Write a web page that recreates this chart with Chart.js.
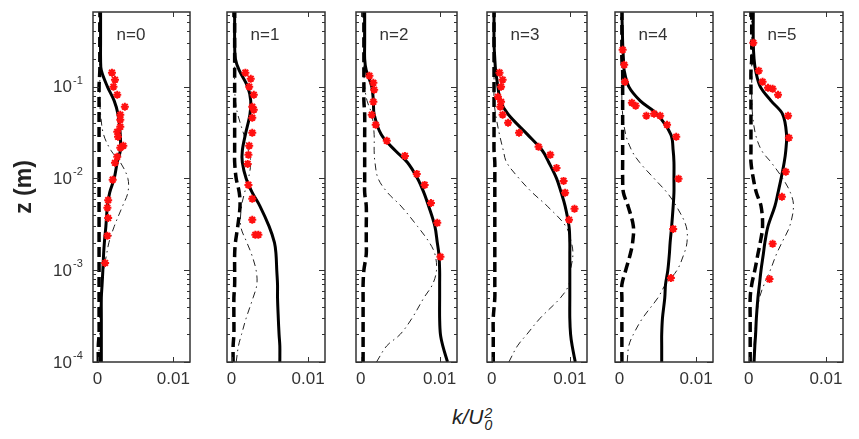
<!DOCTYPE html>
<html>
<head>
<meta charset="utf-8">
<script src="https://cdn.jsdelivr.net/npm/chart.js@4.4.1/dist/chart.umd.min.js"></script>
<style>
  html, body { margin: 0; padding: 0; background: #fff; }
  #fig { position: relative; width: 859px; height: 439px; overflow: hidden; background: #fff; }
  #fig canvas { position: absolute; top: 0; }
  #xtitle { position: absolute; left: 452px; top: 405px; color: #222; line-height: 1;
            font: italic 21px "Liberation Sans", Arial, sans-serif; white-space: nowrap; }
  #xtitle .stack { display: inline-block; vertical-align: -6px; font-size: 14px; line-height: 12px; margin-left: 1px; }
  #xtitle .stack span { display: block; }
</style>
</head>
<body>
<div id="fig">
  <div id="xtitle">k/U<span class="stack"><span>2</span><span>0</span></span></div>
</div>
<script>
// heights (m) where the model profiles are sampled
const zModel = [1e-4, 1.5e-4, 2e-4, 3e-4, 5e-4, 7e-4, 1e-3, 1.5e-3, 2e-3, 3e-3, 5e-3, 7e-3,
                0.01, 0.015, 0.02, 0.03, 0.05, 0.07, 0.1, 0.15, 0.2, 0.3, 0.65];

const panelNames = ['n=0', 'n=1', 'n=2', 'n=3', 'n=4', 'n=5'];

// k/U0^2, one row per panel, same order as zModel
const kSolid = [
  [0.0005,0.0005,0.0005,0.0005,0.0005,0.0006,0.0007,0.0008,0.0009,0.0011,0.0013,0.0016,0.0022,0.0026,0.003,0.003,0.0027,0.0022,0.0013,0.0005,0.0004,0.0004,0.0004],
  [0.0063,0.0063,0.0062,0.0061,0.006,0.006,0.0059,0.0058,0.0056,0.0049,0.0037,0.0027,0.0019,0.0014,0.0014,0.0018,0.0024,0.0025,0.0021,0.001,0.0005,0.0004,0.0004],
  [0.011,0.0104,0.0101,0.01,0.01,0.01,0.01,0.0099,0.0097,0.0094,0.0086,0.008,0.0072,0.0059,0.0044,0.0026,0.0017,0.0016,0.0014,0.0007,0.0005,0.0005,0.0005],
  [0.0107,0.0103,0.0101,0.01,0.01,0.01,0.01,0.01,0.01,0.0099,0.0094,0.0089,0.0083,0.0073,0.0065,0.0046,0.0021,0.0011,0.0008,0.0005,0.0004,0.0003,0.0003],
  [0.0055,0.0055,0.0055,0.0056,0.0059,0.006,0.0063,0.0065,0.0066,0.0068,0.007,0.0071,0.0071,0.0071,0.007,0.0067,0.0049,0.0027,0.0012,0.0006,0.0005,0.0004,0.0003],
  [0.0007,0.0008,0.0009,0.001,0.0012,0.0014,0.0016,0.0019,0.0021,0.0025,0.0034,0.0038,0.0042,0.0046,0.0048,0.0049,0.0044,0.0029,0.0015,0.0009,0.0007,0.0006,0.0006]
];
const kDashed = [
  [0.0001,0.0001,0.0002,0.0002,0.0002,0.0002,0.0002,0.0002,0.0002,0.0002,0.0002,0.0002,0.0002,0.0002,0.0002,0.0002,0.0002,0.0002,0.0002,0.0003,0.0003,0.0003,0.0003],
  [0.0002,0.0002,0.0003,0.0003,0.0003,0.0004,0.0004,0.0004,0.0005,0.0008,0.0011,0.001,0.0006,0.0004,0.0004,0.0004,0.0004,0.0004,0.0004,0.0004,0.0004,0.0004,0.0004],
  [0.0003,0.0003,0.0003,0.0003,0.0003,0.0003,0.0004,0.0007,0.0007,0.0007,0.0007,0.0005,0.0005,0.0005,0.0005,0.0005,0.0005,0.0004,0.0004,0.0004,0.0004,0.0004,0.0004],
  [0.0002,0.0002,0.0002,0.0002,0.0004,0.0004,0.0004,0.0004,0.0004,0.0004,0.0004,0.0004,0.0004,0.0004,0.0003,0.0003,0.0003,0.0003,0.0003,0.0003,0.0003,0.0003,0.0003],
  [0.0003,0.0003,0.0003,0.0003,0.0003,0.0003,0.0008,0.0014,0.0017,0.0018,0.0011,0.0005,0.0004,0.0004,0.0004,0.0004,0.0004,0.0004,0.0004,0.0004,0.0003,0.0003,0.0003],
  [0.0002,0.0002,0.0002,0.0002,0.0002,0.0004,0.0008,0.0012,0.0015,0.0018,0.0016,0.001,0.0006,0.0003,0.0003,0.0003,0.0003,0.0003,0.0003,0.0003,0.0004,0.0004,0.0004]
];
const kDashDot = [
  [0.0002,0.0002,0.0003,0.0003,0.0004,0.0006,0.0008,0.0012,0.0015,0.0022,0.0033,0.004,0.004,0.003,0.0018,0.0008,0.0004,0.0003,0.0003,0.0003,0.0003,0.0003,0.0003],
  [0.0006,0.0009,0.0013,0.0019,0.0028,0.0033,0.0032,0.0026,0.002,0.0012,0.0013,0.0017,0.0022,0.0025,0.0022,0.0016,0.0008,0.0005,0.0004,0.0004,0.0004,0.0004,0.0004],
  [0.002,0.0033,0.005,0.0065,0.008,0.0091,0.0096,0.0094,0.0087,0.0072,0.0051,0.0034,0.0022,0.0018,0.0017,0.0017,0.0014,0.0008,0.0005,0.0004,0.0004,0.0004,0.0004],
  [0.0022,0.0033,0.0045,0.0062,0.0088,0.0099,0.0101,0.0104,0.0102,0.0095,0.0071,0.0052,0.0035,0.0019,0.0015,0.001,0.0005,0.0003,0.0003,0.0003,0.0003,0.0003,0.0003],
  [0.001,0.0012,0.0018,0.003,0.005,0.006,0.0075,0.0084,0.0088,0.0087,0.0074,0.0062,0.0045,0.0026,0.0016,0.0008,0.0004,0.0003,0.0003,0.0003,0.0003,0.0003,0.0003],
  [0.0006,0.0007,0.0008,0.001,0.0014,0.002,0.0028,0.0036,0.0043,0.0053,0.0058,0.0054,0.0044,0.0029,0.0017,0.0009,0.0005,0.0004,0.0004,0.0004,0.0004,0.0004,0.0004]
];

// measurements
const obsZ = [
  [0.142,0.119,0.0998,0.0817,0.0604,0.0494,0.0436,0.0365,0.0322,0.0284,0.0227,0.0216,0.0172,0.0148,0.0097,0.0058,0.0048,0.0037,0.00237,0.0012],
  [0.142,0.122,0.0998,0.0817,0.0604,0.056,0.0458,0.0314,0.0227,0.0181,0.0144,0.0085,0.006,0.00354,0.00243,0.00243],
  [0.1315,0.11,0.0925,0.0684,0.0494,0.0384,0.0257,0.0176,0.0112,0.0085,0.0054,0.00328,0.0014],
  [0.142,0.119,0.0998,0.0776,0.0684,0.0604,0.0494,0.0404,0.0314,0.0221,0.0181,0.013,0.0094,0.007,0.00467,0.00355],
  [0.252,0.173,0.113,0.0668,0.062,0.0482,0.0507,0.0482,0.0384,0.0284,0.0099,0.00282,0.00082],
  [0.301,0.149,0.113,0.0972,0.0948,0.0817,0.0482,0.0277,0.0118,0.0063,0.00194,0.0008]
];
const obsK = [
  [0.0019,0.0023,0.0021,0.0026,0.0036,0.003,0.003,0.003,0.0026,0.0027,0.0034,0.003,0.0026,0.0023,0.002,0.0014,0.0013,0.0014,0.0013,0.001],
  [0.0018,0.0025,0.0023,0.0029,0.0027,0.0029,0.0027,0.0027,0.0023,0.0022,0.0021,0.0022,0.0027,0.0027,0.0031,0.0035],
  [0.0011,0.0016,0.0017,0.0016,0.0014,0.0019,0.0033,0.0056,0.0071,0.0081,0.0089,0.0097,0.0101],
  [0.001,0.0014,0.0012,0.0008,0.0012,0.0011,0.0014,0.0021,0.0035,0.006,0.0075,0.0083,0.0092,0.0094,0.0106,0.0099],
  [0.0004,0.0006,0.0007,0.0016,0.0021,0.0035,0.0045,0.0053,0.0062,0.0074,0.0077,0.007,0.0067],
  [0.0006,0.0013,0.0018,0.0025,0.0031,0.0038,0.0051,0.0052,0.0048,0.0043,0.0031,0.0027]
];

const xTickValues = [0, 0.01];
const xTickLabels = ['0', '0.01'];
const yTickValues = [1e-4, 1e-3, 1e-2, 1e-1];
const yTickExps = ['-4', '-3', '-2', '-1'];

// panel placement on the page
const panelLeft = [93, 227, 356, 487, 615, 744];
const panelWidth = [97, 98, 101, 100, 98, 99];
const FONT = '"Liberation Sans", Arial, sans-serif';

const pairs = (zs, ks) => zs.map((z, j) => ({ x: ks[j], y: z }));

// box, inward ticks, panel name and the 10^n labels
const framePlugin = {
  id: 'frame',
  afterDatasetsDraw(chart, args, opts) {
    const { ctx, chartArea: a, scales: { x, y } } = chart;
    ctx.save();
    ctx.strokeStyle = '#333';
    ctx.lineWidth = 1;
    ctx.beginPath();
    for (let d = -4; d <= -1; d++) {
      for (let m = 1; m <= 9; m++) {
        const v = m * Math.pow(10, d);
        if (v > y.max) break;
        const py = Math.round(y.getPixelForValue(v)) + 0.5;
        const len = m === 1 ? 6 : 3;
        ctx.moveTo(a.left, py); ctx.lineTo(a.left + len, py);
        ctx.moveTo(a.right, py); ctx.lineTo(a.right - len, py);
      }
    }
    xTickValues.forEach(v => {
      const px = Math.round(x.getPixelForValue(v)) + 0.5;
      ctx.moveTo(px, a.bottom); ctx.lineTo(px, a.bottom - 5);
      ctx.moveTo(px, a.top); ctx.lineTo(px, a.top + 5);
    });
    ctx.stroke();
    ctx.lineWidth = 1.5;
    ctx.strokeRect(a.left, a.top, a.right - a.left, a.bottom - a.top);

    ctx.fillStyle = '#333';
    ctx.font = '17px ' + FONT;
    ctx.textAlign = 'center';
    ctx.textBaseline = 'middle';
    ctx.fillText(opts.label, a.left + 38, a.top + 23);

    if (opts.yLabels) {
      yTickValues.forEach((v, j) => {
        const py = y.getPixelForValue(v);
        ctx.font = '17px ' + FONT;
        ctx.textAlign = 'right';
        ctx.fillText('10', 72, py + 1);
        ctx.font = '11px ' + FONT;
        ctx.textAlign = 'left';
        ctx.fillText(yTickExps[j], 73, py - 6);
      });
    }
    ctx.restore();
  }
};

const fig = document.getElementById('fig');

panelNames.forEach((name, i) => {
  const first = i === 0;
  const padL = first ? 0 : 20;
  const left = first ? 0 : panelLeft[i] - 20;
  const width = (first ? panelLeft[0] : 20) + panelWidth[i] + 20;

  const canvas = document.createElement('canvas');
  canvas.width = width;
  canvas.height = 400;
  canvas.style.left = left + 'px';
  canvas.style.width = width + 'px';
  canvas.style.height = '400px';
  fig.appendChild(canvas);

  new Chart(canvas.getContext('2d'), {
    type: 'scatter',
    data: {
      datasets: [
        {
          data: pairs(obsZ[i], obsK[i]),
          showLine: false,
          pointStyle: 'star',
          pointRadius: 4,
          borderColor: '#ff1010',
          backgroundColor: '#ff1010',
          borderWidth: 2
        },
        {
          data: pairs(zModel, kSolid[i]),
          showLine: true,
          borderColor: '#000',
          borderWidth: 3,
          pointRadius: 0,
          tension: 0.35
        },
        {
          data: pairs(zModel, kDashed[i]),
          showLine: true,
          borderColor: '#000',
          borderWidth: 3.5,
          borderDash: [10, 5],
          pointRadius: 0,
          tension: 0.35
        },
        {
          data: pairs(zModel, kDashDot[i]),
          showLine: true,
          borderColor: '#222',
          borderWidth: 1,
          borderDash: [7, 4, 1.5, 4],
          pointRadius: 0,
          tension: 0.35
        }
      ]
    },
    options: {
      responsive: false,
      animation: false,
      devicePixelRatio: 1,
      events: [],
      layout: { padding: { top: 12, left: padL, right: 20, bottom: 0 } },
      plugins: {
        legend: { display: false },
        tooltip: { enabled: false },
        frame: { label: name, yLabels: first }
      },
      scales: {
        x: {
          type: 'linear',
          min: -0.0006,
          max: 0.0122,
          grid: { display: false, drawTicks: false },
          border: { display: false },
          afterBuildTicks: s => { s.ticks = xTickValues.map(v => ({ value: v })); },
          afterFit: s => { s.height = 38; },
          ticks: {
            autoSkip: false,
            maxRotation: 0,
            padding: 7,
            color: '#333',
            font: { family: FONT, size: 17 },
            callback: (v, idx) => xTickLabels[idx]
          }
        },
        y: {
          type: 'logarithmic',
          min: 1e-4,
          max: 0.65,
          display: first,
          grid: { display: false, drawTicks: false },
          border: { display: false },
          ticks: { display: false },
          afterFit: s => { if (first) s.width = panelLeft[0]; },
          title: {
            display: first,
            text: 'z (m)',
            color: '#222',
            font: { family: FONT, size: 23, weight: 'bold' },
            padding: { top: 11, bottom: 0 }
          }
        }
      }
    },
    plugins: [framePlugin]
  });
});
</script>
</body>
</html>
